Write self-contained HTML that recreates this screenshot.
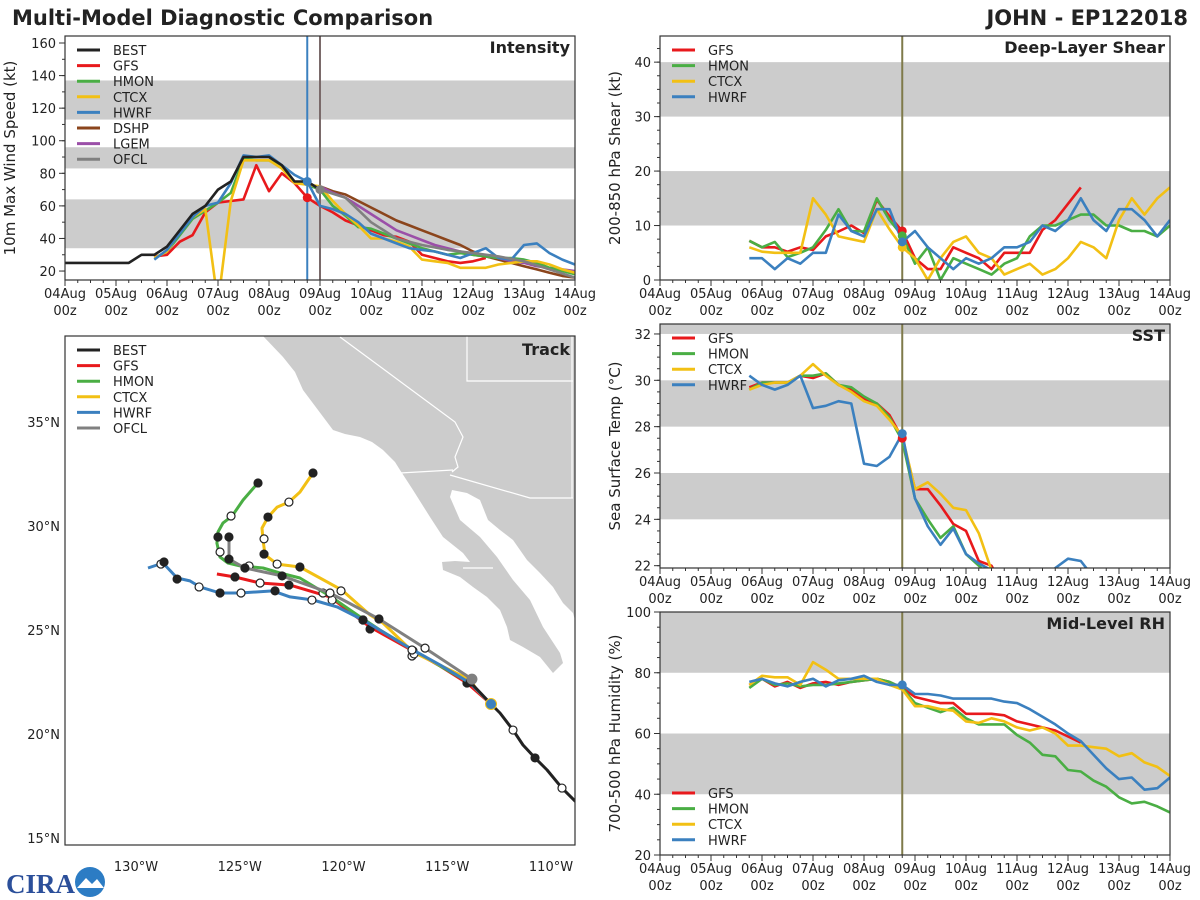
<!DOCTYPE html>
<html><head><meta charset="utf-8"><title>Multi-Model Diagnostic Comparison</title>
<style>
html,body{margin:0;padding:0;background:#fff;}
svg{display:block;font-family:"DejaVu Sans","Liberation Sans",sans-serif;}
</style></head>
<body>
<svg id="chart" width="1200" height="900" viewBox="0 0 1200 900" xmlns="http://www.w3.org/2000/svg">
<text x="12" y="25" font-size="21" font-weight="bold" fill="#222">Multi-Model Diagnostic Comparison</text>
<text x="1188" y="25" font-size="21" font-weight="bold" fill="#222" text-anchor="end">JOHN - EP122018</text>
<g>
<text x="6" y="893" font-size="27" font-weight="bold" fill="#2b4f9a" font-family="Liberation Serif, serif">CIRA</text>
<circle cx="90" cy="882" r="15" fill="#2c7cc4"/>
<path d="M77,888 L86,878 L92,884 L97,879 L104,888 Z" fill="#fff"/>
</g>
</svg>
<script>
// ---------------- DATA ----------------
const intSeriesNames = ['BEST','GFS','HMON','CTCX','HWRF','DSHP','LGEM','OFCL'];
const intBest = [25,25,25,25,25,25,30,30,35,45,55,60,70,75,90,90,90,85,75,75,70];
const intGfs = [29,30,38,42,56,62,63,64,85,69,80,74,65,60,56,51,48,45,42,41,38,30,28,26,25,26,28];
const intHmon = [28,32,42,52,57,62,68,89,88,88,84,75,73,70,60,54,47,46,43,40,37,34,32,30,31,30,29,28,28,27,25,22,20,18];
const intCtcx = [28,32,44,53,58,0,63,88,88,88,83,74,73,72,63,55,48,40,40,38,35,27,26,25,22,22,22,24,25,26,26,24,21,19];
const intHwrf = [27,33,43,53,60,62,74,91,90,91,85,79,75,60,58,55,50,43,40,37,34,33,32,30,28,31,34,28,27,36,37,31,27,24];
const intDshp = [72,69,67,63,59,55,51,48,45,42,39,36,32,29,27,25,23,21,19,17,16];
const intLgem = [72,68,65,60,55,50,45,42,39,36,34,32,30,29,28,26,25,23,22,21,20];
const intOfcl = [70,65,50,40,36,33,31,29,26,21,16];
const intTicks = [20,40,60,80,100,120,140,160];

const shrGfs = [7.2,6,6,5.2,6,5.5,8,8.9,10,8.6,14.7,11.7,9,4,2,2,6,5,4,2,5,5,5,9.2,11,14,17];
const shrHmon = [7.2,6,7,4.2,5,6,9.2,13,9,8.9,15,11,8.1,3,6,0,4,3,2,1,3,4,8,10,10,11,12,12,10,10,9,9,8,10];
const shrCtcx = [6,5.2,5,5,5,15,12,8,7.5,7,13,9.3,6,4,0,4,7,8,5,4,1,2,3,1,2,4,7,6,4,11,15,12,15,17];
const shrHwrf = [4,4,2,4,3,5,5,12,9,8,13,13,7,9,6,4,2,4,3,4,6,6,7,10,9,11,15,11,9,13,13,11,8,11];
const shrTicks = [0,10,20,30,40];

const sstGfs = [29.7,29.9,29.9,29.9,30.2,30.1,30.3,29.8,29.6,29.2,29.0,28.5,27.5,25.3,25.3,24.6,23.8,23.5,22.2,22.0,21.0];
const sstHmon = [29.6,29.9,29.9,29.9,30.2,30.2,30.3,29.8,29.7,29.3,29.0,28.4,27.4,24.9,24.0,23.2,23.7,22.5,22.0,21.5];
const sstCtcx = [29.6,29.8,29.9,29.9,30.2,30.7,30.2,29.8,29.5,29.1,28.9,28.3,27.6,25.3,25.6,25.1,24.5,24.4,23.4,21.8];
const sstHwrf = [30.2,29.8,29.6,29.8,30.2,28.8,28.9,29.1,29.0,26.4,26.3,26.7,27.7,24.9,23.7,22.9,23.6,22.5,22.1,21.8,21.5,21.0,21.0,21.0,21.9,22.3,22.2,21.5];
const sstTicks = [22,24,26,28,30,32];

const rhGfs = [76,78,75.5,77,75,76.5,77,76,77,77.5,78,77,75,72,71,70,70,66.5,66.5,66.5,66,64,63,62,61,59,57];
const rhHmon = [75,78,76,76.5,75.5,76,76,76.5,77,77.5,78,77,75,70,68.5,67,68.5,65,63,63,63,59.5,57,53,52.5,48,47.5,44.5,42.5,39,37,37.5,36,34];
const rhCtcx = [76,79,78.5,78.5,76,83.5,81,78,78,78,78,76,74.5,69,69,68,67.5,64,63.5,65,64,62,61,62,60,56,56,55.5,55,52.5,53.5,50.5,49,46];
const rhHwrf = [77,78,76.5,75.5,77,78,75.5,77.5,78,79,77,76,76,73,73,72.5,71.5,71.5,71.5,71.5,70.5,70,68,65.5,63,60,57.5,53,48.5,45,45.5,41.5,42,45.5];
const rhTicks = [20,40,60,80,100];

const dayLabels = ['04Aug','05Aug','06Aug','07Aug','08Aug','09Aug','10Aug','11Aug','12Aug','13Aug','14Aug'];

// track data [lon, lat]
const trkBest = [[-108.60,16.54],[-109.47,17.40],[-110.19,18.27],[-110.77,18.85],[-111.35,19.47],[-111.83,20.19],[-112.46,21.01],[-112.89,21.44],[-113.90,22.50]];
const trkBestMk = [[-109.47,17.40,0],[-110.77,18.85,1],[-111.83,20.19,0],[-113.90,22.50,1]];
const trkGfs = [[-112.89,21.44],[-114.05,22.45],[-115.35,23.27],[-116.46,23.89],[-118.72,25.14],[-120.65,26.59],[-122.58,27.16],[-124.02,27.26],[-125.23,27.55],[-126.10,27.69]];
const trkGfsMk = [[-114.05,22.45,1],[-116.70,23.75,0],[-118.72,25.05,1],[-120.99,26.78,0],[-122.63,27.16,1],[-124.02,27.26,0],[-125.23,27.55,1]];
const trkHmon = [[-112.89,21.44],[-113.90,22.45],[-115.35,23.27],[-116.65,24.04],[-118.24,25.0],[-119.20,25.63],[-120.65,26.63],[-122.10,27.50],[-123.06,27.74],[-123.88,27.98],[-124.99,28.08],[-125.57,28.22],[-125.95,28.51],[-126.10,29.18],[-126.05,29.71],[-125.81,30.14],[-125.37,30.48],[-124.84,31.25],[-124.12,32.07]];
const trkHmonMk = [[-116.65,24.0,0],[-119.06,25.48,1],[-120.55,26.44,0],[-124.55,28.08,0],[-125.95,28.75,0],[-126.05,29.47,1],[-125.42,30.48,0],[-124.12,32.07,1]];
const trkCtcx = [[-112.89,21.44],[-113.57,22.12],[-113.90,22.60],[-116.65,23.94],[-118.10,25.34],[-118.72,25.72],[-120.07,26.92],[-122.10,28.03],[-123.20,28.17],[-123.78,28.61],[-123.88,29.33],[-123.93,29.90],[-123.64,30.43],[-123.20,30.91],[-122.63,31.15],[-122.10,31.63],[-121.47,32.55]];
const trkCtcxMk = [[-116.60,23.85,0],[-120.12,26.88,0],[-122.10,28.03,1],[-123.20,28.17,0],[-123.83,28.65,1],[-123.83,29.38,0],[-123.64,30.43,1],[-122.63,31.15,0],[-121.47,32.55,1]];
const trkHwrf = [[-112.89,21.44],[-113.90,22.45],[-115.35,23.32],[-116.65,24.04],[-119.06,25.48],[-120.31,26.11],[-121.47,26.44],[-122.58,26.59],[-123.40,26.88],[-124.99,26.78],[-125.95,26.78],[-126.92,27.07],[-127.40,27.36],[-128.02,27.50],[-128.70,28.22],[-129.42,27.98]];
const trkHwrfMk = [[-116.70,24.04,0],[-119.06,25.48,1],[-121.52,26.44,0],[-123.30,26.88,1],[-124.94,26.78,0],[-125.95,26.78,1],[-126.96,27.07,0],[-128.02,27.45,1],[-128.80,28.17,0],[-128.65,28.27,1]];
const trkOfcl = [[-113.81,22.64],[-116.07,24.13],[-118.29,25.53],[-120.65,26.78],[-122.96,27.60],[-124.75,27.98],[-125.52,28.41],[-125.52,29.47]];
const trkOfclMk = [[-116.07,24.13,0],[-118.29,25.53,1],[-120.65,26.78,0],[-122.96,27.60,1],[-124.75,27.98,1],[-125.52,28.41,1],[-125.52,29.47,1]];
const lonTicks = [-130,-125,-120,-115,-110];
const latTicks = [15,20,25,30,35];

// ---------------- DRAW ----------------
const NS='http://www.w3.org/2000/svg';
const svg=document.getElementById('chart');
const C={BEST:'#222222',GFS:'#e8191c',HMON:'#4aae44',CTCX:'#f2c014',HWRF:'#3b80bf',DSHP:'#8b451c',LGEM:'#9b4fa8',OFCL:'#808080'};
function mk(tag,attrs,parent){const e=document.createElementNS(NS,tag);for(const k in attrs)e.setAttribute(k,attrs[k]);(parent||svg).appendChild(e);return e;}
let clipN=0;

function tsPanel(p){
  const g=mk('g',{});
  
  
  const xs=d=>p.x0+(p.x1-p.x0)*d/10;
  const ys=v=>p.yb-(v-p.vmin)/(p.vmax-p.vmin)*(p.yb-p.yt);
  const cid='clip'+(clipN++);
  const cp=mk('clipPath',{id:cid},g);
  mk('rect',{x:p.x0,y:p.yt,width:p.x1-p.x0,height:p.yb-p.yt},cp);
  const inner=mk('g',{'clip-path':'url(#'+cid+')'},g);
  p.bands.forEach(b=>{
    const r=mk('rect',{x:p.x0,y:ys(b[1]),width:p.x1-p.x0,height:ys(b[0])-ys(b[1]),fill:'#cccccc'},inner);
    
    
  });
  p.vlines.forEach(v=>{
    const l=mk('line',{x1:xs(v[0]),x2:xs(v[0]),y1:p.yt,y2:p.yb,stroke:v[1],'stroke-width':2},inner);
    
    
  });
  p.series.forEach(s=>{
    const step=s.step||0.25;
    const pts=s.values.map((v,i)=>xs(s.start+i*step).toFixed(1)+','+ys(v).toFixed(1)).join(' ');
    const pl=mk('polyline',{points:pts,fill:'none',stroke:C[s.name],'stroke-width':2.6,'stroke-linejoin':'round'},inner);
    
    
  });
  (p.dots||[]).forEach(s=>{
    const i=Math.round((s.day-s.start)/(s.step||0.25));
    const c=mk('circle',{cx:xs(s.day),cy:ys(s.values[i]),r:4.5,fill:C[s.name]},inner);
    
    
  });
  const fr=mk('rect',{x:p.x0,y:p.yt,width:p.x1-p.x0,height:p.yb-p.yt,fill:'none',stroke:'#333','stroke-width':1.2},g);
  
  
  for(let i=0;i<=40;i++){
    const d=i/4,maj=i%4===0;
    mk('line',{x1:xs(d),x2:xs(d),y1:p.yb,y2:p.yb+(maj?6:3),stroke:'#333','stroke-width':1},g);
  }
  dayLabels.forEach((lab,i)=>{
    const t=mk('text',{x:xs(i),y:p.yb+18,'font-size':13,'text-anchor':'middle',fill:'#222'},g);
    t.textContent=lab;
    
    
    const t2=mk('text',{x:xs(i),y:p.yb+35,'font-size':13,'text-anchor':'middle',fill:'#222'},g);
    t2.textContent='00z';
    
    
  });
  for(let v=Math.ceil(p.vmin/p.minor)*p.minor;v<=p.vmax+1e-6;v+=p.minor){
    mk('line',{x1:p.x0,x2:p.x0-3,y1:ys(v),y2:ys(v),stroke:'#333','stroke-width':1},g);
  }
  p.ticks.forEach(v=>{
    mk('line',{x1:p.x0,x2:p.x0-6,y1:ys(v),y2:ys(v),stroke:'#333','stroke-width':1},g);
    const t=mk('text',{x:p.x0-9,y:ys(v)+5,'font-size':13,'text-anchor':'end',fill:'#222'},g);
    t.textContent=v;
    
    
  });
  const yl=mk('text',{x:0,y:0,'font-size':15,'text-anchor':'middle',fill:'#222',transform:'translate('+p.ylx+','+((p.yt+p.yb)/2)+') rotate(-90)'},g);
  yl.textContent=p.ylabel;
  
  
  const ti=mk('text',{x:p.x1-5,y:p.yt+17,'font-size':16,'font-weight':'bold','text-anchor':'end',fill:'#222'},g);
  ti.textContent=p.title;
  
  
  legend(g,p.x0,p.legY,p.legend);
}
function legend(g,x0,y0,names){
  names.forEach((n,i)=>{
    const y=y0+i*15.6;
    const lg=mk('g',{},g);
    
    
    mk('line',{x1:x0+12,x2:x0+35,y1:y,y2:y,stroke:C[n],'stroke-width':3},lg);
    const t=mk('text',{x:x0+48,y:y+5,'font-size':13,fill:'#222'},lg);
    t.textContent=n;
  });
}

tsPanel({name:'intensity',x0:65,x1:575,yt:36,yb:280,vmin:14.5,vmax:164.3,bands:[[34,64],[83,96],[113,137]],
  vlines:[[4.75,'#3b80bf'],[5,'#7a6a6a']],ticks:intTicks,minor:10,ylabel:'10m Max Wind Speed (kt)',ylx:15,title:'Intensity',legY:50,legend:intSeriesNames,
  series:[{name:'DSHP',start:5,values:intDshp},{name:'LGEM',start:5,values:intLgem},{name:'GFS',start:1.75,values:intGfs},{name:'HMON',start:1.75,values:intHmon},{name:'CTCX',start:1.75,values:intCtcx},{name:'HWRF',start:1.75,values:intHwrf},{name:'OFCL',start:5,step:0.5,values:intOfcl},{name:'BEST',start:0,values:intBest}],
  dots:[{name:'GFS',start:1.75,day:4.75,values:intGfs},{name:'HWRF',start:1.75,day:4.75,values:intHwrf},{name:'OFCL',start:5,step:0.5,day:5,values:intOfcl}]});

tsPanel({name:'shear',x0:660,x1:1170,yt:36,yb:280,vmin:0,vmax:44.8,bands:[[10,20],[30,40]],
  vlines:[[4.75,'#7f7a4a']],ticks:shrTicks,minor:2.5,ylabel:'200-850 hPa Shear (kt)',ylx:620,title:'Deep-Layer Shear',legY:50,legend:['GFS','HMON','CTCX','HWRF'],
  series:[{name:'GFS',start:1.75,values:shrGfs},{name:'HMON',start:1.75,values:shrHmon},{name:'CTCX',start:1.75,values:shrCtcx},{name:'HWRF',start:1.75,values:shrHwrf}],
  dots:[{name:'GFS',start:1.75,day:4.75,values:shrGfs},{name:'HMON',start:1.75,day:4.75,values:shrHmon},{name:'CTCX',start:1.75,day:4.75,values:shrCtcx},{name:'HWRF',start:1.75,day:4.75,values:shrHwrf}]});

tsPanel({name:'sst',x0:660,x1:1170,yt:324,yb:568,vmin:21.9,vmax:32.43,bands:[[24,26],[28,30],[32,34]],
  vlines:[[4.75,'#7f7a4a']],ticks:sstTicks,minor:0.5,ylabel:'Sea Surface Temp (°C)',ylx:620,title:'SST',legY:338,legend:['GFS','HMON','CTCX','HWRF'],
  series:[{name:'GFS',start:1.75,values:sstGfs},{name:'HMON',start:1.75,values:sstHmon},{name:'CTCX',start:1.75,values:sstCtcx},{name:'HWRF',start:1.75,values:sstHwrf}],
  dots:[{name:'GFS',start:1.75,day:4.75,values:sstGfs},{name:'HWRF',start:1.75,day:4.75,values:sstHwrf}]});

tsPanel({name:'rh',x0:660,x1:1170,yt:612,yb:855,vmin:20,vmax:100,bands:[[40,60],[80,100]],
  vlines:[[4.75,'#7f7a4a']],ticks:rhTicks,minor:5,ylabel:'700-500 hPa Humidity (%)',ylx:620,title:'Mid-Level RH',legY:793,legend:['GFS','HMON','CTCX','HWRF'],
  series:[{name:'GFS',start:1.75,values:rhGfs},{name:'HMON',start:1.75,values:rhHmon},{name:'CTCX',start:1.75,values:rhCtcx},{name:'HWRF',start:1.75,values:rhHwrf}],
  dots:[{name:'HWRF',start:1.75,day:4.75,values:rhHwrf}]});

// ---------------- TRACK MAP ----------------
(function(){
  const X0=65,X1=575,YT=336,YB=845;
  const lx=lon=>136+(lon+130)*20.75;
  const ly=lat=>526-(lat-30)*20.8;
  const g=mk('g',{});
  
  
  const cp=mk('clipPath',{id:'trkclip'},g);
  mk('rect',{x:X0,y:YT,width:X1-X0,height:YB-YT},cp);
  const inner=mk('g',{'clip-path':'url(#trkclip)'},g);
  const land=mk('polygon',{fill:'#cccccc',stroke:'none',points:'263,336 283,357 295,372 303,390 318,410 333,430 345,434 360,437 372,442 383,450 395,462 400,470 413,490 430,517 443,537 463,553 470,562 455,561 442,562 443,570 460,577 473,587 487,597 500,610 507,627 510,640 523,647 540,657 553,673 563,663 560,653 543,627 530,600 513,580 497,557 480,537 460,520 450,497 452,490 467,493 480,500 488,520 500,530 513,540 527,560 540,573 553,587 563,603 573,613 575,620 580,620 580,330 263,330'},inner);
  
  
  const borders=mk('path',{fill:'none',stroke:'#fff','stroke-width':1.2,d:'M340,337 L455,422 L463,437 L455,457 L458,467 L452,472 M400,473 L453,470 M450,475 L530,498 L573,498 M467,336 L467,381 L573,381 M572,336 L572,498 M463,568 L493,568'},inner);
  
  
  const tracks=[['GFS',trkGfs,trkGfsMk],['HMON',trkHmon,trkHmonMk],['CTCX',trkCtcx,trkCtcxMk],['HWRF',trkHwrf,trkHwrfMk],['OFCL',trkOfcl,trkOfclMk],['BEST',trkBest,trkBestMk]];
  tracks.forEach(t=>{
    const pl=mk('polyline',{points:t[1].map(p=>lx(p[0]).toFixed(1)+','+ly(p[1]).toFixed(1)).join(' '),fill:'none',stroke:C[t[0]],'stroke-width':3,'stroke-linejoin':'round'},inner);
    
    
    t[2].forEach(m=>{
      const c=mk('circle',{cx:lx(m[0]),cy:ly(m[1]),r:4,fill:m[2]?'#222':'#fff',stroke:'#222','stroke-width':1.2},inner);
      
      
    });
  });
  const s1=mk('circle',{cx:lx(trkOfcl[0][0]),cy:ly(trkOfcl[0][1]),r:5.5,fill:'#808080'},inner);
  
  
  const s2=mk('circle',{cx:lx(trkHwrf[0][0]),cy:ly(trkHwrf[0][1]),r:5.5,fill:'#3b80bf',stroke:'#f2c014','stroke-width':1},inner);
  
  
  const fr=mk('rect',{x:X0,y:YT,width:X1-X0,height:YB-YT,fill:'none',stroke:'#333','stroke-width':1.2},g);
  
  
  lonTicks.forEach(v=>{
    const t=mk('text',{x:lx(v),y:871,'font-size':13,'text-anchor':'middle',fill:'#222'},g);
    t.textContent=Math.abs(v)+'°W';
    
    
  });
  latTicks.forEach(v=>{
    const t=mk('text',{x:60,y:ly(v)+5,'font-size':13,'text-anchor':'end',fill:'#222'},g);
    t.textContent=v+'°N';
    
    
  });
  const ti=mk('text',{x:X1-5,y:YT+19,'font-size':16,'font-weight':'bold','text-anchor':'end',fill:'#222'},g);
  ti.textContent='Track';
  
  
  legend(g,X0,350,['BEST','GFS','HMON','CTCX','HWRF','OFCL']);
})();
</script>
</body></html>
